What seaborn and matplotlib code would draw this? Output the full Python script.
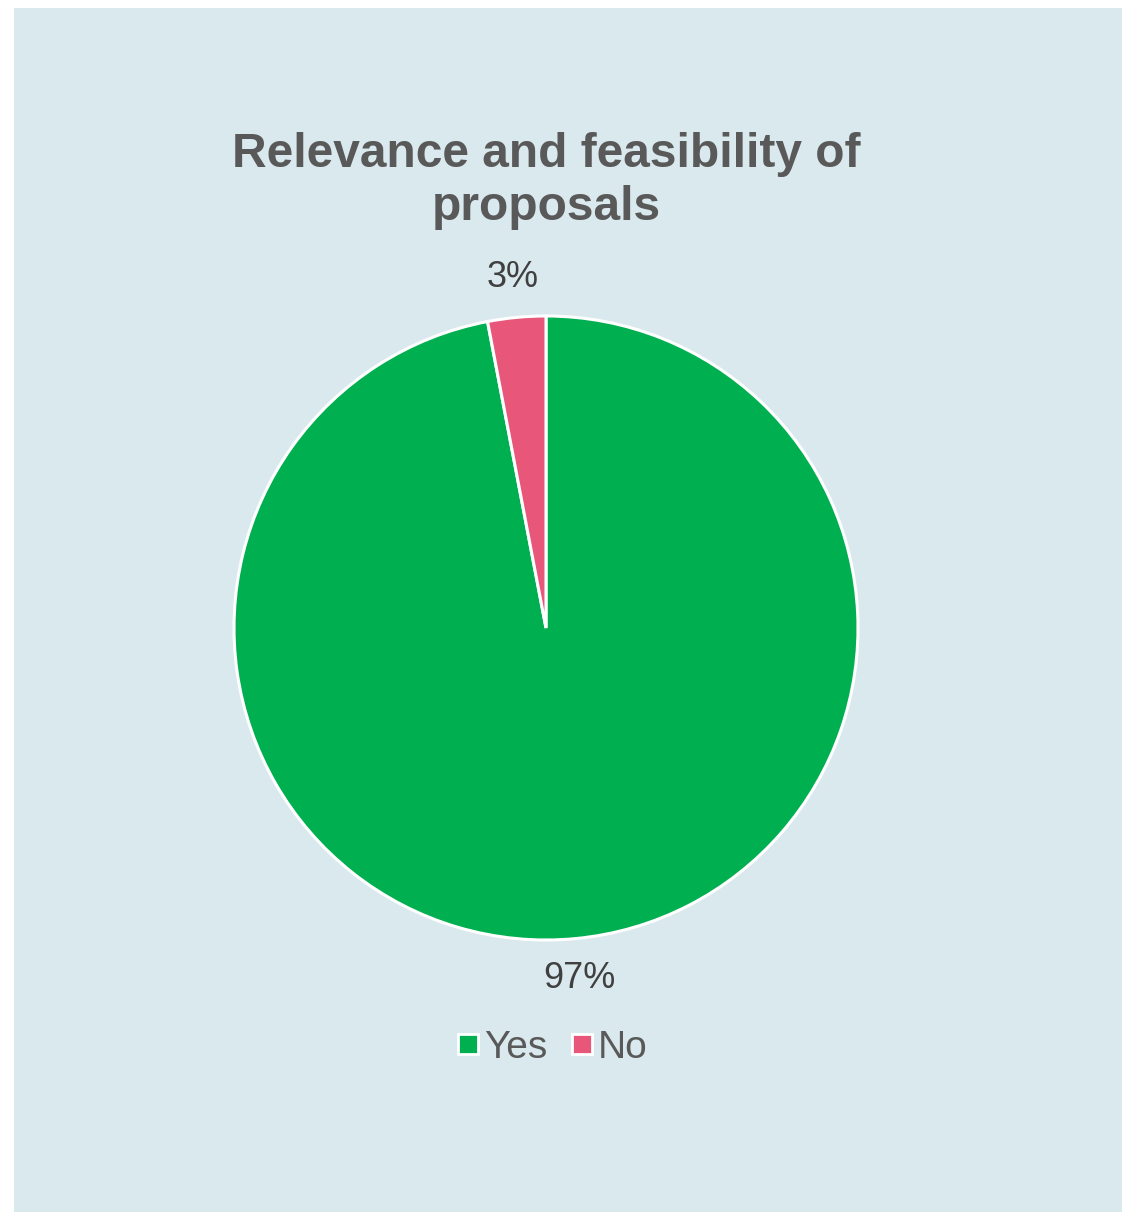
import matplotlib
matplotlib.use("Agg")
import matplotlib.pyplot as plt
import seaborn as sns
from matplotlib.patches import Rectangle
from matplotlib.lines import Line2D

categories = ["Yes", "No"]
values = [97, 3]
colors = ["#00B050", "#E8577A"]
title = "Relevance and feasibility of\nproposals"

sns.set_theme(style="white")
plt.rcParams['font.family'] = ['Liberation Sans', 'DejaVu Sans']

W, H = 1122, 1212
fig = plt.figure(figsize=(W / 100, H / 100), dpi=100)
fig.patch.set_facecolor("white")
fig.patches.append(Rectangle((14 / W, 0), 1 - 14 / W, 1 - 8 / H, transform=fig.transFigure,
                             facecolor="#DAE9EE", edgecolor="none", zorder=-5))

R = 312
cx, cy = 546, 628
half = 1.5 * R
ax = fig.add_axes([(cx - half) / W, (H - cy - half) / H, 2 * half / W, 2 * half / H])
ax.set_zorder(2)
ax.set_facecolor("none")
wedges, texts, autotexts = ax.pie(values, colors=colors, startangle=90, counterclock=False,
                                  autopct="%d%%", pctdistance=1.13,
                                  wedgeprops=dict(edgecolor="white", linewidth=2.2),
                                  textprops=dict(color="#404040", fontsize=26))
ax.set_xlim(-1.5, 1.5)
ax.set_ylim(-1.5, 1.5)
ax.set_aspect("equal")
ax.axis("off")

fig.text(546 / W, 1 - 181 / H, title, ha="center", va="center", fontsize=34.5,
         fontweight="bold", color="#595959", linespacing=1.22, zorder=3)

handles = [Line2D([0], [0], marker="s", linestyle="none", markersize=14,
                  markerfacecolor=c, markeredgecolor="white", markeredgewidth=2)
           for c in colors]
leg = fig.legend(handles, categories, loc="center", bbox_to_anchor=(551 / W, 1 - 1048 / H),
                 ncol=2, frameon=False, fontsize=28, labelcolor="#595959",
                 handletextpad=0.05, columnspacing=0.55, handlelength=0.7)
leg.set_zorder(3)

fig.savefig("out.png", dpi=100, facecolor=fig.get_facecolor())
